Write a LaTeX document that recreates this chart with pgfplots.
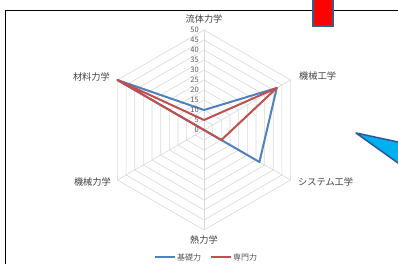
\documentclass[border=0pt]{standalone}
\usepackage{fontspec}
\setmainfont{Noto Sans CJK JP}
\usepackage{pgfplots}
\pgfplotsset{compat=1.18}
\usepgfplotslibrary{polar}
\definecolor{sblue}{HTML}{4F81BD}
\definecolor{sred}{HTML}{C0504D}
\definecolor{gridc}{HTML}{D9D9D9}
\definecolor{txt}{HTML}{404040}
\definecolor{tick}{HTML}{595959}
\begin{document}
\begin{tikzpicture}[x=1pt,y=1pt]
\useasboundingbox (0,0) rectangle (398,264);
\clip (0,0) rectangle (398,264);
\fill[white] (0,0) rectangle (398,264);
\draw[black, line width=0.9pt] (5,-5) -- (5,254) -- (405,254);
\begin{polaraxis}[
  at={(204pt,134pt)}, anchor=origin,
  scale only axis, width=200pt, height=200pt,
  xmin=0, xmax=360, ymin=0, ymax=50,
  hide axis, clip=false,
]
\pgfplotsinvokeforeach{5,10,15,20,25,30,35,40,45,50}{
  \addplot[gridc, line width=0.6pt, forget plot] coordinates {(90,#1)(30,#1)(330,#1)(270,#1)(210,#1)(150,#1)(90,#1)};
}
\pgfplotsinvokeforeach{90,30,330,270,210,150}{
  \addplot[gridc, line width=0.6pt, forget plot] coordinates {(#1,0)(#1,50)};
}
\addplot[sblue, line width=2pt, line join=round] coordinates {(90,10)(30,42)(330,32)(270,0)(210,0)(150,50)(90,10)};
\addplot[sred, line width=2pt, line join=round] coordinates {(90,5)(30,42)(330,10)(270,0)(210,0)(150,50)(90,5)};
\pgfplotsinvokeforeach{0,5,10,15,20,25,30,35,40,45,50}{
  \node[anchor=east, xshift=-5pt, inner sep=0pt, text=tick, font=\fontsize{7.5}{8}\selectfont] at (axis cs:90,#1) {#1};
}
\end{polaraxis}
\begin{scope}[every node/.style={text=txt, font=\fontsize{9.2}{10}\selectfont, inner sep=0pt}]
\node at (204,245) {流体力学};
\node[anchor=west] at (299,188) {機械工学};
\node[anchor=west] at (298,82) {システム工学};
\node at (204,24) {熱力学};
\node[anchor=east] at (111,82) {機械力学};
\node[anchor=east] at (110,187) {材料力学};
\end{scope}
\draw[sblue, line width=2pt] (155,7) -- (175,7);
\node[anchor=west, inner sep=0pt, text=tick, font=\fontsize{8}{9}\selectfont] at (177,7) {基礎力};
\draw[sred, line width=2pt] (211,7) -- (231,7);
\node[anchor=west, inner sep=0pt, text=tick, font=\fontsize{8}{9}\selectfont] at (233,7) {専門力};
\filldraw[fill=red, draw={rgb,255:red,56;green,93;blue,138}, line width=1.5pt] (313,238) rectangle (333,270);
\filldraw[fill={rgb,255:red,0;green,176;blue,240}, draw={rgb,255:red,47;green,85;blue,151}, line width=1.5pt, line join=round] (356,131) -- (405,120.5) -- (405,96) -- cycle;
\end{tikzpicture}
\end{document}
